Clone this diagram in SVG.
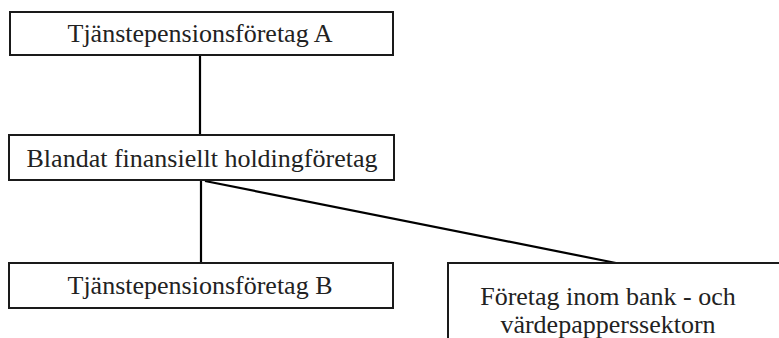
<svg xmlns="http://www.w3.org/2000/svg" width="779" height="338" viewBox="0 0 779 338">
<style>
.box{fill:#fff;stroke:#1a1a1a;stroke-width:2}
.t{font-family:"Liberation Serif","Times New Roman",serif;font-size:26px;fill:#222;text-anchor:middle}
.c{stroke:#000;stroke-width:2.2;fill:none}
</style>
<rect width="779" height="338" fill="#fff"/>
<g id="connectors">
<line class="c" x1="200" y1="55" x2="200" y2="135"/>
<line class="c" x1="201" y1="181" x2="201" y2="263"/>
<line class="c" x1="205" y1="181" x2="616" y2="263"/>
</g>
<g id="nodeA">
<rect class="box" x="10" y="12" width="383" height="43"/>
<text class="t" x="200" y="42">Tjänstepensionsföretag A</text>
</g>
<g id="nodeHolding">
<rect class="box" x="9" y="135" width="385" height="45"/>
<text class="t" x="202" y="167">Blandat finansiellt holdingföretag</text>
</g>
<g id="nodeB">
<rect class="box" x="9" y="263" width="384" height="45"/>
<text class="t" x="200" y="294">Tjänstepensionsföretag B</text>
</g>
<g id="nodeBank">
<rect class="box" x="448" y="263" width="340" height="90"/>
<text class="t" x="608" y="305">Företag inom bank - och</text>
<text class="t" x="608" y="333">värdepapperssektorn</text>
</g>
</svg>
